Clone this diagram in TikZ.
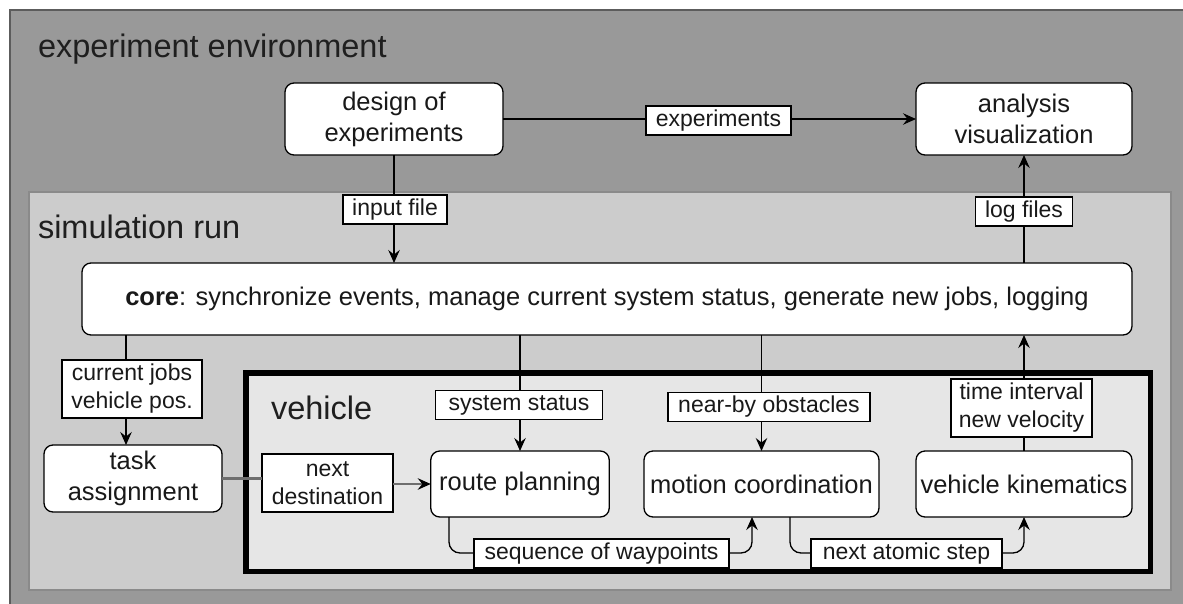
\documentclass[tikz,border=0pt]{standalone}
\usepackage{fontspec}
\setmainfont{Liberation Sans}
\usetikzlibrary{arrows.meta}
\definecolor{envgray}{HTML}{999999}
\definecolor{envline}{HTML}{5C5C5C}
\definecolor{simgray}{HTML}{CCCCCC}
\definecolor{simline}{HTML}{8A8A8A}
\definecolor{vehgray}{HTML}{E6E6E6}
\definecolor{destline}{HTML}{6E6E6E}

\begin{document}
\begin{tikzpicture}[x=1pt,y=-1pt,
  every node/.style={inner sep=0pt, outer sep=0pt},
  proc/.style={draw=black, line width=1.3pt, fill=white, rounded corners=9pt,
    align=center, font=\fontsize{25.5}{31}\selectfont, text=black!90},
  lbl/.style={draw=black, line width=1.1pt, fill=white, align=center,
    font=\fontsize{23}{28}\selectfont, text=black!90},
  title/.style={anchor=base west, font=\fontsize{32.5}{38}\selectfont, text=black!88},
  tip/.style={-{Stealth[length=13pt,width=11.5pt,inset=4.5pt]}},
  flow/.style={line width=1.3pt, tip},
]
\useasboundingbox (0,0) rectangle (1183,603);

% outer container, running off the page on the right and bottom
\begin{scope}
  \clip (0,0) rectangle (1183,603);
  \node[draw=envline, line width=2pt, fill=envgray, anchor=north west,
        minimum width=1200pt, minimum height=610pt] (env) at (9.5,9.5) {};
\end{scope}
\node[title] (envtitle) at (38,57) {experiment environment};

% simulation run container
\node[draw=simline, line width=2pt, fill=simgray,
      minimum width=1142pt, minimum height=397.5pt] (sim) at (599.5,390.75) {};
\node[title] (simtitle) at (38,238) {simulation run};

% vehicle container
\node[draw=black, line width=5.5pt, fill=vehgray,
      minimum width=904.5pt, minimum height=198.5pt] (veh) at (698.25,472.25) {};
\node[title] (vehtitle) at (271,419) {vehicle};

% processes
\node[proc, minimum width=218pt, minimum height=72pt] (doe) at (394,119) {design of\\experiments};
\node[proc, minimum width=216pt, minimum height=72pt] (ana) at (1024,119) {analysis\\visualization};
\node[proc, minimum width=1050pt, minimum height=72pt] (core) at (607,299)
  {\textbf{core}: synchronize events, manage current system status, generate new jobs, logging};
\node[proc, minimum width=178pt, minimum height=67pt] (task) at (133,478.5) {task\\assignment};
\node[proc, minimum width=178.5pt, minimum height=66pt] (route) at (520,484) {route planning};
\node[proc, minimum width=235pt, minimum height=66pt] (motion) at (761.5,484) {motion coordination};
\node[proc, minimum width=216pt, minimum height=66pt] (kin) at (1024,484) {vehicle kinematics};

% helper points for the lower lane
\coordinate (lane) at (0,553);
\coordinate (rpOut) at ([xshift=-71pt]route.south);
\coordinate (mcIn) at ([xshift=-9.5pt]motion.south);
\coordinate (mcOut) at ([xshift=28.5pt]motion.south);
\coordinate (jobsTop) at ([xshift=-7pt]task.north |- core.south);
\coordinate (jobsEnd) at ([xshift=-7pt]task.north);

% connectors
\draw[flow] (doe) -- (ana);
\draw[flow] (doe.south) -- (doe.south |- core.north);
\draw[flow] (ana.south |- core.north) -- (ana.south);
\draw[flow] (jobsTop) -- (jobsEnd);
\draw[flow] (route.north |- core.south) -- (route.north);
\draw[flow] (motion.north |- core.south) -- (motion.north);
\draw[flow] (kin.north) -- (kin.north |- core.south);
\draw[flow, rounded corners=11pt] (rpOut) |- (lane -| mcIn) -- (mcIn);
\draw[flow, rounded corners=11pt] (mcOut) |- (lane -| kin.south) -- (kin.south);

% connector labels
\node[lbl, minimum width=145pt, minimum height=29pt] (lexp) at (718.5,120.5) {experiments};
\node[lbl, minimum width=104pt, minimum height=29pt] (lin) at (395,209.5) {input file};
\node[lbl, minimum width=96.5pt, minimum height=29pt] (llog) at (1024,211.5) {log files};
\node[lbl, minimum width=140pt, minimum height=58pt] (ljobs) at (132,389) {current jobs\\vehicle pos.};
\node[lbl, minimum width=167.5pt, minimum height=28.5pt] (lstat) at (519,405) {system status};
\node[lbl, minimum width=202pt, minimum height=29pt] (lobs) at (769,407) {near-by obstacles};
\node[lbl, minimum width=141pt, minimum height=58pt] (lvel) at (1021.5,408) {time interval\\new velocity};
\node[lbl, minimum width=131pt, minimum height=58pt] (ldest) at (327.5,483) {next\\destination};
\node[lbl, minimum width=255pt, minimum height=29pt] (lway) at (601.5,553.5) {sequence of waypoints};
\node[lbl, minimum width=191pt, minimum height=29pt] (lstep) at (906.5,553.5) {next atomic step};

% task assignment hands the next destination to route planning
\draw[destline, line width=2.6pt] (task.east) -- (ldest.west |- task.east);
\draw[destline, line width=2.6pt, -{Stealth[length=13pt,width=11.5pt,inset=4.5pt,color=black]}]
  (ldest.east |- route.west) -- (route.west);
\end{tikzpicture}
\end{document}
